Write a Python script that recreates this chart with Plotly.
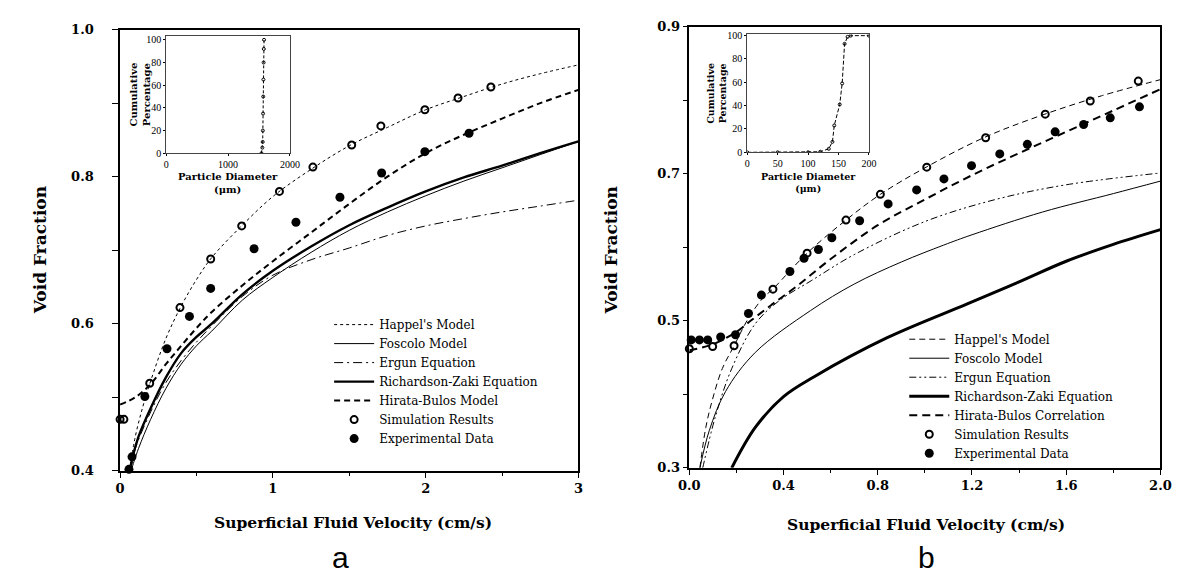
import plotly.graph_objects as go

W, H = 1186, 575

# ---------------- Panel a data ----------------
a_happel_x = [0.06, 0.1, 0.15, 0.2, 0.3, 0.4, 0.5, 0.6, 0.8, 1.0, 1.25, 1.5, 1.75, 2.0, 2.25, 2.5, 2.75, 3.0]
a_happel_y = [0.40, 0.447, 0.488, 0.522, 0.58, 0.624, 0.66, 0.69, 0.734, 0.773, 0.81, 0.842, 0.867, 0.891, 0.909, 0.926, 0.94, 0.952]

a_foscolo_x = [0.075, 0.08, 0.12, 0.2, 0.3, 0.4, 0.5, 0.6, 0.8, 1.0, 1.25, 1.5, 1.75, 2.0, 2.25, 2.5, 2.75, 3.0]
a_foscolo_y = [0.40, 0.405, 0.43, 0.47, 0.512, 0.545, 0.57, 0.59, 0.632, 0.663, 0.697, 0.727, 0.752, 0.774, 0.794, 0.812, 0.83, 0.848]

a_ergun_x = [0.07, 0.1, 0.2, 0.3, 0.4, 0.5, 0.6, 0.8, 1.0, 1.25, 1.5, 1.75, 2.0, 2.25, 2.5, 2.75, 3.0]
a_ergun_y = [0.40, 0.43, 0.48, 0.52, 0.55, 0.575, 0.597, 0.637, 0.666, 0.687, 0.703, 0.72, 0.733, 0.743, 0.752, 0.76, 0.768]

a_rz_x = [0.065, 0.08, 0.12, 0.2, 0.3, 0.4, 0.5, 0.6, 0.8, 1.0, 1.25, 1.5, 1.75, 2.0, 2.25, 2.5, 2.75, 3.0]
a_rz_y = [0.40, 0.417, 0.446, 0.485, 0.527, 0.56, 0.582, 0.60, 0.64, 0.672, 0.705, 0.734, 0.758, 0.78, 0.799, 0.815, 0.832, 0.848]

a_hb_x = [0.0, 0.1, 0.2, 0.3, 0.4, 0.5, 0.6, 0.8, 1.0, 1.25, 1.5, 1.75, 2.0, 2.25, 2.5, 2.75, 3.0]
a_hb_y = [0.49, 0.50, 0.518, 0.545, 0.57, 0.594, 0.616, 0.652, 0.685, 0.724, 0.763, 0.80, 0.832, 0.857, 0.879, 0.90, 0.918]

a_sim_x = [0.0, 0.025, 0.194, 0.392, 0.593, 0.796, 1.043, 1.262, 1.516, 1.707, 1.995, 2.212, 2.427]
a_sim_y = [0.47, 0.47, 0.519, 0.622, 0.688, 0.733, 0.78, 0.813, 0.843, 0.869, 0.891, 0.907, 0.922]

a_exp_x = [0.058, 0.078, 0.162, 0.307, 0.454, 0.593, 0.877, 1.151, 1.439, 1.712, 1.995, 2.284]
a_exp_y = [0.402, 0.419, 0.501, 0.566, 0.610, 0.648, 0.702, 0.738, 0.772, 0.805, 0.834, 0.859]

a_inset_x = [1540, 1555, 1560, 1563, 1566, 1569, 1572, 1575, 1578, 1582]
a_inset_y = [0, 5, 10, 20, 35, 50, 65, 80, 92, 100]

# ---------------- Panel b data ----------------
b_happel_x = [0.045, 0.07, 0.1, 0.14, 0.19, 0.25, 0.31, 0.36, 0.5, 0.665, 0.811, 1.0, 1.25, 1.5, 1.75, 2.0]
b_happel_y = [0.30, 0.355, 0.395, 0.435, 0.466, 0.503, 0.53, 0.545, 0.592, 0.637, 0.672, 0.708, 0.749, 0.78, 0.806, 0.828]

b_foscolo_x = [0.045, 0.085, 0.154, 0.28, 0.515, 0.7, 0.9, 1.08, 1.2, 1.5, 1.8, 2.0]
b_foscolo_y = [0.30, 0.351, 0.404, 0.457, 0.514, 0.55, 0.58, 0.603, 0.617, 0.648, 0.673, 0.69]

b_ergun_x = [0.057, 0.11, 0.18, 0.28, 0.38, 0.52, 0.7, 1.0, 1.3, 1.6, 2.0]
b_ergun_y = [0.30, 0.369, 0.435, 0.496, 0.527, 0.555, 0.59, 0.635, 0.665, 0.685, 0.701]

b_rz_x = [0.18, 0.28, 0.4, 0.53, 0.84, 1.18, 1.4, 1.6, 1.8, 2.0]
b_rz_y = [0.30, 0.355, 0.397, 0.424, 0.477, 0.523, 0.553, 0.581, 0.604, 0.624]

b_hb_x = [0.0, 0.1, 0.2, 0.26, 0.35, 0.46, 0.6, 0.8, 1.0, 1.2, 1.4, 1.6, 1.8, 2.0]
b_hb_y = [0.46, 0.468, 0.485, 0.50, 0.522, 0.548, 0.584, 0.630, 0.665, 0.698, 0.728, 0.757, 0.786, 0.815]

b_sim_x = [0.0, 0.099, 0.19, 0.355, 0.5, 0.665, 0.811, 1.008, 1.258, 1.511, 1.702, 1.906]
b_sim_y = [0.462, 0.465, 0.466, 0.543, 0.592, 0.637, 0.672, 0.709, 0.749, 0.781, 0.799, 0.826]

b_exp_x = [0.008, 0.043, 0.078, 0.133, 0.196, 0.251, 0.306, 0.427, 0.487, 0.548, 0.605, 0.723,
           0.844, 0.965, 1.081, 1.198, 1.318, 1.435, 1.553, 1.674, 1.787, 1.911]
b_exp_y = [0.474, 0.474, 0.474, 0.478, 0.481, 0.51, 0.535, 0.567, 0.585, 0.597, 0.613, 0.636,
           0.659, 0.678, 0.693, 0.711, 0.727, 0.740, 0.757, 0.767, 0.776, 0.791]

b_inset_x = [0, 50, 100, 120, 134, 140, 143, 152, 156, 160, 165, 170, 200]
b_inset_y = [0, 0, 0, 0.5, 3, 9, 23, 41, 59, 93, 99, 100, 100]

legend_a_names = ["Happel's Model", "Foscolo Model", "Ergun Equation", "Richardson-Zaki Equation",
                  "Hirata-Bulos Model", "Simulation Results", "Experimental Data"]
legend_b_names = ["Happel's Model", "Foscolo Model", "Ergun Equation", "Richardson-Zaki Equation",
                  "Hirata-Bulos Correlation", "Simulation Results", "Experimental Data"]

SERIF = "DejaVu Serif"


def px(p):
    return p / W


def py(p):
    return 1 - p / H


fig = go.Figure()

# ---- panel a traces ----
a_lines = [
    (a_happel_x, a_happel_y, dict(color="black", width=1, dash="3px,3px")),
    (a_foscolo_x, a_foscolo_y, dict(color="black", width=1)),
    (a_ergun_x, a_ergun_y, dict(color="black", width=1, dash="9px,4px,2px,4px")),
    (a_rz_x, a_rz_y, dict(color="black", width=2.4)),
    (a_hb_x, a_hb_y, dict(color="black", width=2, dash="6px,4px")),
]
for (xs, ys, ln), name in zip(a_lines, legend_a_names[:5]):
    fig.add_trace(go.Scatter(x=xs, y=ys, mode="lines", line=ln, name=name,
                             xaxis="x", yaxis="y", legend="legend", line_shape="spline"))
fig.add_trace(go.Scatter(x=a_sim_x, y=a_sim_y, mode="markers", name=legend_a_names[5],
                         marker=dict(symbol="circle-open", size=7, color="black", line=dict(width=2)),
                         xaxis="x", yaxis="y", legend="legend", cliponaxis=False))
fig.add_trace(go.Scatter(x=a_exp_x, y=a_exp_y, mode="markers", name=legend_a_names[6],
                         marker=dict(symbol="circle", size=9, color="black"),
                         xaxis="x", yaxis="y", legend="legend", cliponaxis=False))

# ---- panel b traces ----
b_lines = [
    (b_happel_x, b_happel_y, dict(color="black", width=1, dash="6px,4px")),
    (b_foscolo_x, b_foscolo_y, dict(color="black", width=1)),
    (b_ergun_x, b_ergun_y, dict(color="black", width=1, dash="7px,3px,2px,3px,2px,3px")),
    (b_rz_x, b_rz_y, dict(color="black", width=3)),
    (b_hb_x, b_hb_y, dict(color="black", width=2, dash="8px,5px")),
]
for (xs, ys, ln), name in zip(b_lines, legend_b_names[:5]):
    fig.add_trace(go.Scatter(x=xs, y=ys, mode="lines", line=ln, name=name,
                             xaxis="x2", yaxis="y2", legend="legend2", line_shape="spline"))
fig.add_trace(go.Scatter(x=b_sim_x, y=b_sim_y, mode="markers", name=legend_b_names[5],
                         marker=dict(symbol="circle-open", size=7, color="black", line=dict(width=2)),
                         xaxis="x2", yaxis="y2", legend="legend2", cliponaxis=False))
fig.add_trace(go.Scatter(x=b_exp_x, y=b_exp_y, mode="markers", name=legend_b_names[6],
                         marker=dict(symbol="circle", size=9, color="black"),
                         xaxis="x2", yaxis="y2", legend="legend2", cliponaxis=False))

# ---- insets ----
fig.add_trace(go.Scatter(x=a_inset_x, y=a_inset_y, mode="lines+markers",
                         line=dict(color="black", width=1, dash="3px,2px"),
                         marker=dict(symbol="circle-open", size=3, color="black"),
                         xaxis="x3", yaxis="y3", showlegend=False))
fig.add_trace(go.Scatter(x=b_inset_x, y=b_inset_y, mode="lines+markers",
                         line=dict(color="black", width=1, dash="4px,2px"),
                         marker=dict(symbol="circle-open", size=3, color="black"),
                         xaxis="x4", yaxis="y4", showlegend=False))

tickfont_main = dict(family=SERIF, size=13, color="black", weight="bold")
common = dict(showgrid=False, zeroline=False, showline=True, linecolor="black",
              mirror=True, ticks="outside", tickcolor="black")

inset_font = dict(family="Liberation Serif", size=10, color="black")
inset_common = dict(showgrid=False, zeroline=False, showline=True, linecolor="#444",
                    linewidth=1, mirror=True, ticks="outside", ticklen=2, tickcolor="black",
                    tickfont=inset_font)

fig.update_layout(
    width=W, height=H,
    margin=dict(l=0, r=0, t=0, b=0),
    paper_bgcolor="white", plot_bgcolor="white",
    xaxis=dict(domain=[px(103), px(570)], range=[0, 3], dtick=1, tick0=0, anchor="y",
               linewidth=1.5, ticklen=5, tickfont=tickfont_main,
               minor=dict(ticks="outside", dtick=0.5, ticklen=3, tickcolor="black"), **common),
    yaxis=dict(domain=[py(468), py(15)], range=[0.4, 1.0], dtick=0.2, tick0=0.4, anchor="x",
               tickformat=".1f", linewidth=1.5, ticklen=6, tickfont=tickfont_main,
               ticklabelstandoff=16,
               minor=dict(ticks="outside", dtick=0.1, ticklen=6, tickcolor="black"), **common),
    xaxis2=dict(domain=[px(683), px(1163)], range=[0, 2], dtick=0.4, tick0=0, anchor="y2",
                tickformat=".1f", linewidth=1.5, ticklen=5, tickfont=tickfont_main,
                minor=dict(ticks="outside", dtick=0.2, ticklen=3, tickcolor="black"), **common),
    yaxis2=dict(domain=[py(465), py(12)], range=[0.3, 0.9], dtick=0.2, tick0=0.3, anchor="x2",
                tickformat=".1f", linewidth=1.5, ticklen=5, tickfont=tickfont_main,
                minor=dict(ticks="outside", dtick=0.1, ticklen=5, tickcolor="black"), **common),
    xaxis3=dict(domain=[px(150), px(276)], range=[0, 2000], tickvals=[0, 1000, 2000], anchor="y3",
                **inset_common),
    yaxis3=dict(domain=[py(142), py(22)], range=[0, 103], tickvals=[0, 20, 40, 60, 80, 100], anchor="x3",
                **inset_common),
    xaxis4=dict(domain=[px(742), px(866)], range=[0, 200], tickvals=[0, 50, 100, 150, 200], anchor="y4",
                **inset_common),
    yaxis4=dict(domain=[py(141), py(20)], range=[0, 101], tickvals=[0, 20, 40, 60, 80, 100], anchor="x4",
                **inset_common),
    legend=dict(x=px(316), y=py(303), xanchor="left", yanchor="top",
                bgcolor="rgba(0,0,0,0)", font=dict(family=SERIF, size=12, color="black"),
                tracegroupgap=0, itemwidth=40),
    legend2=dict(x=px(902), y=py(318), xanchor="left", yanchor="top",
                 bgcolor="rgba(0,0,0,0)", font=dict(family=SERIF, size=12, color="black"),
                 tracegroupgap=0, itemwidth=40),
    showlegend=True,
)

title_font = dict(family=SERIF, size=15.5, color="black", weight="bold")
ytitle_font = dict(family=SERIF, size=17, color="black", weight="bold")
inset_title_font = dict(family=SERIF, size=10, color="black", weight="bold")
annotations = [
    dict(text="Void Fraction", x=px(21), y=py(242), textangle=-90, font=ytitle_font),
    dict(text="Void Fraction", x=px(603), y=py(242), textangle=-90, font=ytitle_font),
    dict(text="Superficial Fluid Velocity (cm/s)", x=px(340), y=py(521), font=title_font),
    dict(text="Superficial Fluid Velocity (cm/s)", x=px(924), y=py(523), font=title_font),
    dict(text="a", x=px(328), y=py(557), font=dict(family="Liberation Sans", size=30, color="black")),
    dict(text="b", x=px(925), y=py(557), font=dict(family="Liberation Sans", size=30, color="black")),
    dict(text="Cumulative<br>Percentage", x=px(123), y=py(82), textangle=-90, font=inset_title_font),
    dict(text="Particle Diameter<br>(μm)", x=px(213), y=py(172), font=inset_title_font),
    dict(text="Cumulative<br>Percentage", x=px(711), y=py(80), textangle=-90,
         font=dict(family=SERIF, size=9.5, color="black", weight="bold")),
    dict(text="Particle Diameter<br>(μm)", x=px(804), y=py(172),
         font=dict(family=SERIF, size=9.5, color="black", weight="bold")),
]
for a in annotations:
    a.update(xref="paper", yref="paper", showarrow=False, xanchor="center", yanchor="middle")
fig.update_layout(annotations=annotations)

fig.write_html("out.html")
